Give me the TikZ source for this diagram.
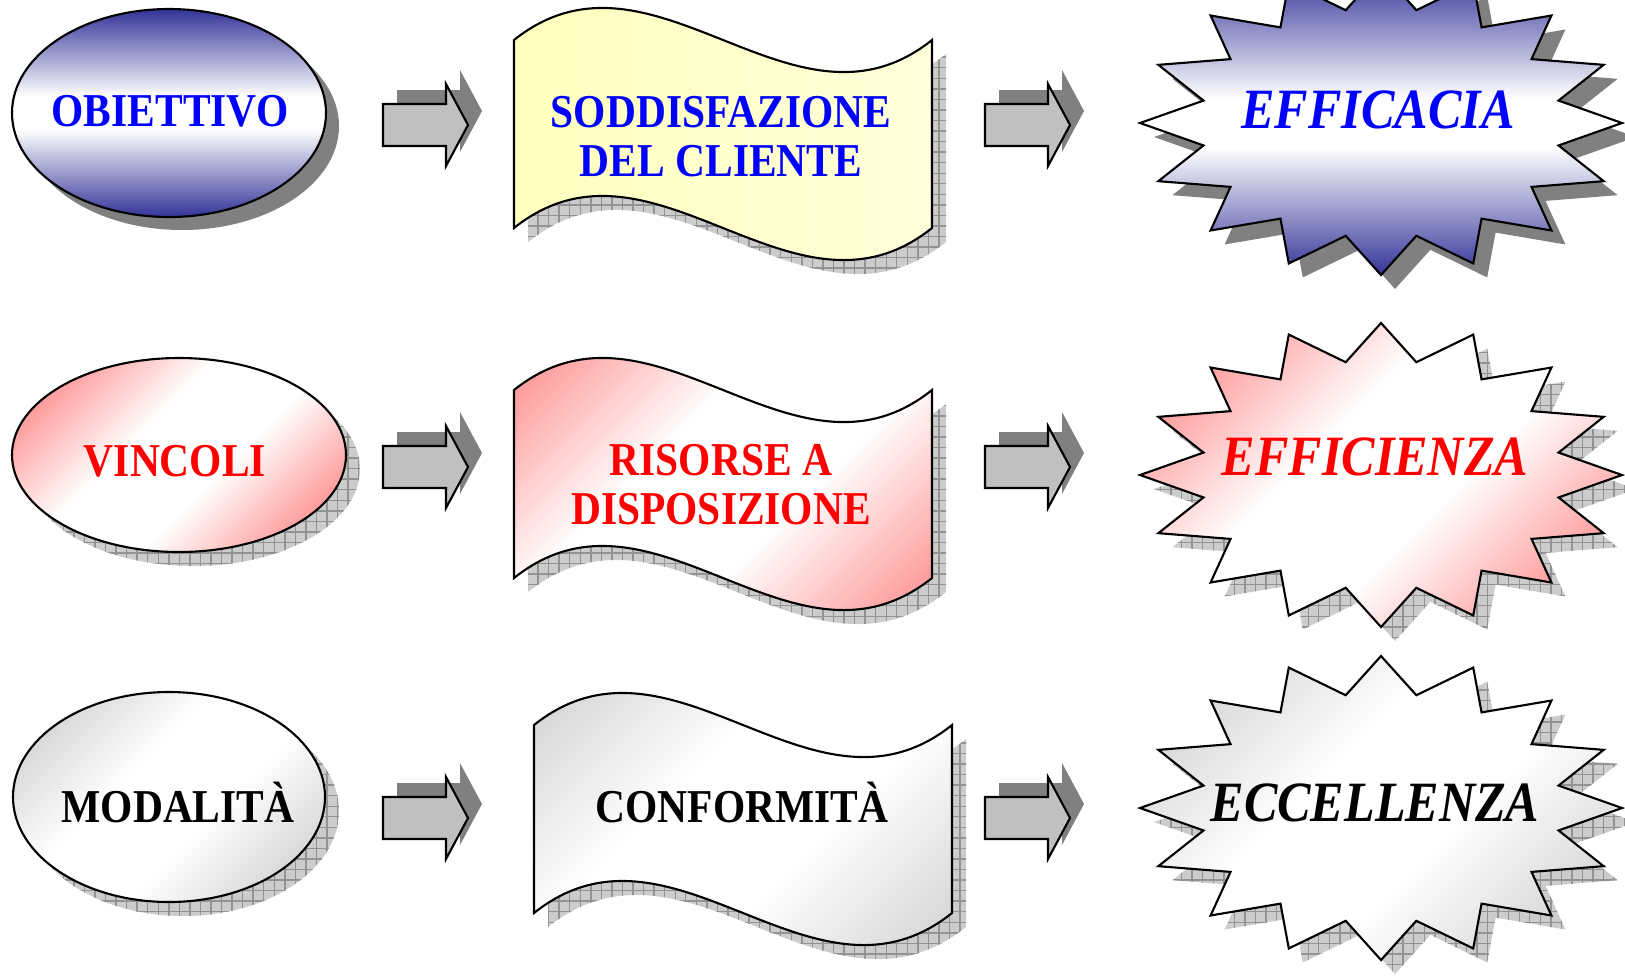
\documentclass[tikz,border=0pt]{standalone}
\usepackage{fontspec}
\setmainfont[FakeStretch=0.88]{Liberation Serif}
\usetikzlibrary{patterns}

\definecolor{navy}{RGB}{51,51,153}
\definecolor{blush}{RGB}{255,100,100}
\definecolor{silver}{RGB}{195,195,195}
\definecolor{paleyellow}{RGB}{255,255,190}
\definecolor{arrowfill}{RGB}{192,192,192}
\definecolor{darkshadow}{RGB}{128,128,128}

\pgfdeclareverticalshading{navyband}{100bp}{color(0bp)=(navy); color(25bp)=(navy); color(46bp)=(white); color(54bp)=(white); color(75bp)=(navy); color(100bp)=(navy)}
\pgfdeclareverticalshading{redband}{100bp}{color(0bp)=(blush); color(14bp)=(blush); color(42bp)=(white); color(58bp)=(white); color(86bp)=(blush); color(100bp)=(blush)}
\pgfdeclareverticalshading{grayband}{100bp}{color(0bp)=(silver); color(14bp)=(silver); color(42bp)=(white); color(58bp)=(white); color(86bp)=(silver); color(100bp)=(silver)}

% outlines, drawn at the origin and moved with shift
\newcommand{\wave}{(0,0) .. controls (139,-111) and (279,111) .. (418,0) -- (418,188) .. controls (279,299) and (139,77) .. (0,188) -- cycle}
\newcommand{\burst}{(90:241 and 152) \foreach \k in {0,...,15}{ -- ({90+22.5*\k}:241 and 152) -- ({101.25+22.5*\k}:181 and 115)} -- cycle}
\newcommand{\blockarrow}{(0,-21) -- (63,-21) -- (63,-41) -- (85,0) -- (63,41) -- (63,21) -- (0,21) -- cycle}

\begin{document}
\begin{tikzpicture}[x=0.01cm, y=-0.01cm,
    outline/.style={draw=black, line width=0.6pt},
    flatshadow/.style={fill=darkshadow},
    gridshadow/.style={fill=gray!40, postaction={pattern=grid, pattern color=gray!85}},
    plaintext/.style={font=\bfseries\fontsize{13.4}{13.94}\selectfont, align=center, inner sep=0pt},
    bursttext/.style={font=\bfseries\itshape\fontsize{16.2}{18}\selectfont, inner sep=0pt}]
    \useasboundingbox (0,0) rectangle (1625,975);
    \clip (0,0) rectangle (1625,975);

    % Row 1 - Obiettivo
    \fill[flatshadow] (182,126) ellipse [x radius=157, y radius=104];
    \path[outline, shading=navyband] (169,113) ellipse [x radius=157, y radius=104];
    \path[gridshadow, shift={(528,54)}] \wave;
    \path[outline, left color=paleyellow, right color=paleyellow!55!white, shift={(514,40)}] \wave;
    \fill[flatshadow, shift={(1395,137)}] \burst;
    \path[outline, shading=navyband, shift={(1381,123)}] \burst;

    % Row 2 - Vincoli
    \path[gridshadow] (193,469) ellipse [x radius=167, y radius=97];
    \path[outline, shading=redband, shading angle=45] (179,455) ellipse [x radius=167, y radius=97];
    \path[gridshadow, shift={(528,404)}] \wave;
    \path[outline, shading=redband, shading angle=45, shift={(514,390)}] \wave;
    \path[gridshadow, shift={(1395,489)}] \burst;
    \path[outline, shading=redband, shading angle=45, shift={(1381,475)}] \burst;

    % Row 3 - Modalita
    \path[gridshadow] (183,811) ellipse [x radius=156, y radius=105];
    \path[outline, shading=grayband, shading angle=45] (169,797) ellipse [x radius=156, y radius=105];
    \path[gridshadow, shift={(548,739)}] \wave;
    \path[outline, shading=grayband, shading angle=45, shift={(534,725)}] \wave;
    \path[gridshadow, shift={(1395,822)}] \burst;
    \path[outline, shading=grayband, shading angle=45, shift={(1381,808)}] \burst;

    % Block arrows between the columns
    \foreach \y in {125,467,818} {
        \foreach \x in {383,985} {
            \fill[flatshadow, shift={(\x+14,\y-14)}] \blockarrow;
            \path[outline, fill=arrowfill, shift={(\x,\y)}] \blockarrow;
        }
    }

    % Labels
    \node[plaintext, text=blue, anchor=base] (obiettivo) at (170,126) {OBIETTIVO};
    \node[plaintext, text=blue] (soddisfazione) at (721,137) {SODDISFAZIONE\\DEL CLIENTE};
    \node[bursttext, text=blue, anchor=base] (efficacia) at (1378,128) {EFFICACIA};

    \node[plaintext, text=red, anchor=base] (vincoli) at (175,476) {VINCOLI};
    \node[plaintext, text=red] (risorse) at (721,485) {RISORSE A\\DISPOSIZIONE};
    \node[bursttext, text=red, anchor=base] (efficienza) at (1375,475) {EFFICIENZA};

    \node[plaintext, anchor=base] (modalita) at (178,822) {MODALITÀ};
    \node[plaintext, anchor=base] (conformita) at (742,822) {CONFORMITÀ};
    \node[bursttext, anchor=base] (eccellenza) at (1375,821) {ECCELLENZA};
\end{tikzpicture}
\end{document}
